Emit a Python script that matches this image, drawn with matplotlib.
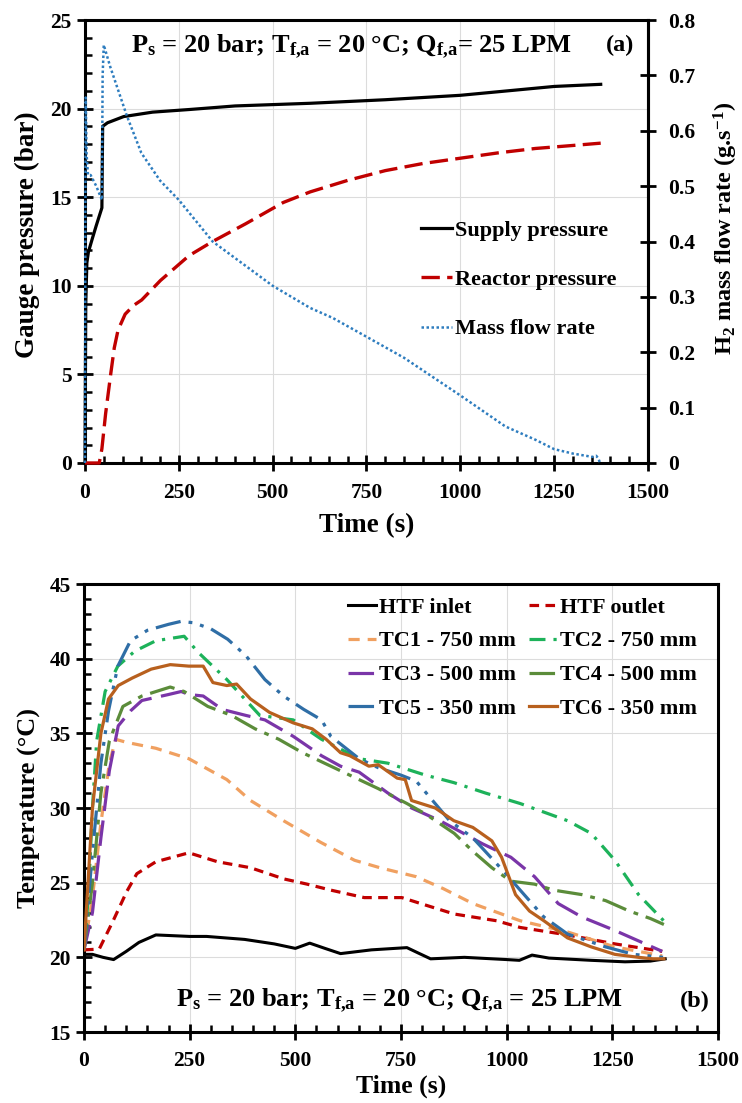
import matplotlib
matplotlib.use("Agg")
import matplotlib.pyplot as plt
from matplotlib.ticker import MultipleLocator

# ---------------- data: panel (a) ----------------
supply_t = [0, 2, 5, 9, 20, 30, 45, 47, 60, 103, 180, 279, 400, 600, 800, 1000, 1150, 1250, 1374]
supply_p = [0, 9.0, 11.3, 11.9, 12.7, 13.4, 14.4, 19.0, 19.2, 19.55, 19.8, 19.95, 20.15, 20.3, 20.5, 20.75, 21.05, 21.25, 21.37]

reactor_t = [0, 38, 45, 55, 69, 78, 88, 107, 130, 151, 201, 277, 340, 428, 528, 600, 700, 800, 900, 1000, 1100, 1200, 1300, 1374]
reactor_p = [0, 0, 0.8, 2.8, 5.1, 6.5, 7.5, 8.4, 8.9, 9.2, 10.3, 11.7, 12.5, 13.5, 14.7, 15.3, 15.95, 16.5, 16.9, 17.2, 17.5, 17.75, 17.92, 18.05]

flow_t = [0, 1, 2, 4, 8, 15, 30, 45, 47, 50, 67, 80, 112, 150, 200, 250, 340, 400, 500, 600, 660, 750, 850, 1000,
          1120, 1200, 1250, 1300, 1352, 1362, 1368, 1372]
flow_v = [0, 0.45, 0.66, 0.56, 0.52, 0.52, 0.50, 0.475, 0.70, 0.755, 0.716, 0.69, 0.626, 0.56, 0.51, 0.475, 0.40,
          0.37, 0.32, 0.28, 0.262, 0.228, 0.19, 0.122, 0.066, 0.042, 0.025, 0.017, 0.011, 0.013, 0.008, 0.0]

# ---------------- data: panel (b) ----------------
inlet_t = [0, 20, 45, 70, 100, 130, 170, 250, 290, 380, 450, 500, 534, 570, 607, 680, 764, 790, 820, 900, 1000,
           1030, 1060, 1100, 1200, 1280, 1340, 1375]
inlet_T = [20.2, 20.2, 20.0, 19.85, 20.4, 21.0, 21.5, 21.4, 21.4, 21.2, 20.9, 20.6, 20.95, 20.6, 20.25, 20.5, 20.65,
           20.3, 19.9, 20.0, 19.85, 19.8, 20.15, 19.95, 19.8, 19.7, 19.75, 19.9]

outlet_t = [0, 36, 69, 101, 125, 170, 248, 316, 394, 473, 528, 584, 663, 752, 808, 876, 976, 1032, 1144, 1256, 1368]
outlet_T = [20.5, 20.55, 22.45, 24.4, 25.6, 26.4, 27.0, 26.4, 26.0, 25.25, 24.9, 24.5, 24.0, 24.0, 23.5, 22.9, 22.45,
            22.0, 21.5, 20.9, 20.4]

tc1_t = [0, 20, 40, 60, 75, 100, 170, 248, 338, 394, 472, 560, 640, 700, 786, 850, 920, 1032, 1144, 1256, 1368]
tc1_T = [20.5, 24, 29, 33, 34.6, 34.4, 34.0, 33.3, 31.9, 30.5, 29.15, 27.7, 26.5, 26.0, 25.4, 24.6, 23.6, 22.45, 21.7,
         20.7, 20.1]

tc2_t = [0, 10, 20, 30, 50, 80, 120, 170, 237, 271, 338, 416, 495, 562, 651, 719, 808, 875, 950, 1032, 1144, 1200,
         1256, 1312, 1380]
tc2_T = [20.5, 24, 30, 34.5, 37.8, 39.5, 40.5, 41.2, 41.5, 40.4, 38.6, 36.2, 35.9, 34.6, 33.3, 33.0, 32.2, 31.7, 31.0,
         30.3, 29.15, 28.3, 26.5, 24.2, 22.2]

tc3_t = [0, 20, 40, 60, 81, 110, 137, 200, 230, 248, 282, 327, 383, 428, 495, 562, 607, 651, 719, 775, 842, 898, 943,
         1010, 1066, 1122, 1178, 1256, 1312, 1368]
tc3_T = [20.5, 23, 28, 32.5, 35.5, 36.5, 37.2, 37.6, 37.8, 37.6, 37.5, 36.6, 36.2, 35.9, 34.8, 33.5, 32.8, 32.4, 31.0,
         30.0, 29.15, 28.3, 27.6, 26.7, 25.4, 23.6, 22.7, 21.8, 21.1, 20.4]

tc4_t = [0, 20, 40, 60, 92, 137, 204, 237, 293, 349, 405, 461, 517, 584, 651, 696, 764, 808, 876, 920, 965, 1010, 1066,
         1111, 1178, 1234, 1290, 1340, 1372]
tc4_T = [20.5, 25, 31, 34.5, 36.8, 37.5, 38.1, 37.8, 36.8, 36.2, 35.3, 34.6, 33.7, 32.8, 31.9, 31.3, 30.3, 29.6, 28.3,
         27.1, 26.0, 25.1, 24.9, 24.5, 24.2, 23.8, 23.1, 22.6, 22.2]

tc5_t = [0, 20, 40, 58, 80, 110, 150, 200, 230, 260, 300, 340, 383, 428, 472, 520, 562, 584, 651, 696, 750, 786, 865,
         920, 998, 1032, 1088, 1144, 1234, 1300, 1370]
tc5_T = [20.5, 27, 33, 36.5, 39.5, 41.2, 41.9, 42.3, 42.5, 42.4, 42.0, 41.3, 40.2, 38.6, 37.5, 36.6, 35.9, 34.8, 33.3,
         32.7, 32.2, 31.8, 29.15, 28.0, 25.6, 24.5, 22.7, 21.56, 20.7, 20.2, 20.0]

tc6_t = [0, 20, 40, 58, 81, 114, 159, 204, 248, 282, 305, 338, 361, 394, 439, 495, 540, 573, 607, 629, 674, 696, 741,
         760, 775, 831, 875, 920, 965, 988, 1021, 1054, 1088, 1144, 1200, 1256, 1312, 1346, 1372]
tc6_T = [20.5, 30, 35, 37.3, 38.2, 38.7, 39.3, 39.6, 39.5, 39.5, 38.4, 38.2, 38.3, 37.3, 36.4, 35.7, 35.3, 34.6, 33.7,
         33.5, 32.8, 32.9, 32.0, 31.9, 30.5, 30.0, 29.15, 28.7, 27.8, 26.7, 24.2, 23.1, 22.45, 21.3, 20.7, 20.2, 20.0,
         19.9, 19.9]

label_a = r"$\mathregular{P_s}$ = 20 bar; $\mathregular{T_{f{,}a}}$ = 20 °C; $\mathregular{Q_{f{,}a}}$= 25 LPM"
label_b = r"$\mathregular{P_s}$ = 20 bar; $\mathregular{T_{f{,}a}}$ = 20 °C; $\mathregular{Q_{f{,}a}}$ = 25 LPM"

# ---------------- style ----------------
plt.rcParams['font.family'] = ['Liberation Serif', 'DejaVu Serif']
plt.rcParams['font.weight'] = 'bold'
plt.rcParams['mathtext.fontset'] = 'custom'
plt.rcParams['mathtext.rm'] = 'Liberation Serif:bold'
plt.rcParams['mathtext.it'] = 'Liberation Serif:italic:bold'
plt.rcParams['mathtext.bf'] = 'Liberation Serif:bold'
plt.rcParams['axes.labelweight'] = 'bold'

W, H = 742, 1103
fig = plt.figure(figsize=(W / 100, H / 100), dpi=100)


def fig_rect(x0, y0, x1, y1):
    return [x0 / W, 1 - y1 / H, (x1 - x0) / W, (y1 - y0) / H]


TICK_FS = 15.5
LAB_FS = 19.5
ANN_FS = 19
LEG_FS = 16
GRID_C = '#dcdcdc'


def style_axis(ax, ymaj, ymin, xpad):
    for s in ax.spines.values():
        s.set_linewidth(2.2)
        s.set_zorder(1.5)
    ax.xaxis.set_major_locator(MultipleLocator(250))
    ax.xaxis.set_minor_locator(MultipleLocator(50))
    ax.yaxis.set_major_locator(MultipleLocator(ymaj))
    ax.yaxis.set_minor_locator(MultipleLocator(ymin))
    ax.tick_params(which='major', direction='inout', length=11, width=2.0, labelsize=TICK_FS, pad=4)
    ax.tick_params(axis='x', which='major', pad=xpad)
    ax.tick_params(which='minor', direction='in', length=5, width=1.8)
    ax.tick_params(top=False, right=False, which='both')
    ax.grid(True, which='major', color=GRID_C, lw=0.8)
    ax.set_axisbelow(True)


# ---------------- panel (a) ----------------
ax1 = fig.add_axes(fig_rect(85, 20, 648, 463))
ax2 = ax1.twinx()
style_axis(ax1, 5, 1, 9)
ax1.set_xlim(0, 1500)
ax1.set_ylim(0, 25)
ax2.set_ylim(0, 0.8)
ax2.yaxis.set_major_locator(MultipleLocator(0.1))
ax2.tick_params(which='major', direction='inout', length=11, width=2.0, labelsize=TICK_FS, pad=9)
ax2.tick_params(which='minor', right=False)
for k, s in ax2.spines.items():
    s.set_linewidth(2.2)
    if k != 'right':
        s.set_visible(False)
ax2.set_yticks([0, 0.1, 0.2, 0.3, 0.4, 0.5, 0.6, 0.7, 0.8])
ax2.set_yticklabels(['0', '0.1', '0.2', '0.3', '0.4', '0.5', '0.6', '0.7', '0.8'])

l_sup, = ax1.plot(supply_t, supply_p, color='black', lw=2.3, label='Supply pressure', zorder=3, clip_on=False)
l_rea, = ax1.plot(reactor_t, reactor_p, color='#c00000', lw=2.4, ls=(0, (5.5, 2.2)), label='Reactor pressure',
                  zorder=3, clip_on=False)
l_flo, = ax2.plot(flow_t, flow_v, color='#2e7dbf', lw=1.8, ls=(0, (1, 1)), label='Mass flow rate',
                  zorder=3, clip_on=False)

ax1.set_xlabel('Time (s)', fontsize=LAB_FS, labelpad=7)
ax1.set_ylabel('Gauge pressure (bar)', fontsize=LAB_FS)
ax1.yaxis.set_label_coords((40 - 85) / (648 - 85), 0.515)
ax2.set_ylabel(r'H$_\mathregular{2}$ mass flow rate (g.s$^\mathregular{-1}$)', fontsize=17.5)
ax2.yaxis.set_label_coords((712 - 85) / (648 - 85), (463 - 228) / 443)

fig.legend(handles=[l_sup, l_rea, l_flo], loc='upper left',
           bbox_to_anchor=(421 / W, 1 - 220 / H), frameon=False, fontsize=LEG_FS,
           handlelength=1.4, handletextpad=0.14, labelspacing=1.3, borderpad=0, borderaxespad=0)

fig.text(351 / W, 1 - 47 / H, label_a, ha='center', va='center', fontsize=ANN_FS, fontweight='bold')
fig.text(620 / W, 1 - 45 / H, '(a)', ha='center', va='center', fontsize=17.5, fontweight='bold')

# ---------------- panel (b) ----------------
ax3 = fig.add_axes(fig_rect(84, 584, 718, 1032))
style_axis(ax3, 5, 1, 8)
ax3.set_xlim(0, 1500)
ax3.set_ylim(15, 45)

h_in, = ax3.plot(inlet_t, inlet_T, color='black', lw=2.2, label='HTF inlet')
h_out, = ax3.plot(outlet_t, outlet_T, color='#c00000', lw=2.3, ls=(0, (3, 2)), label='HTF outlet')
h1, = ax3.plot(tc1_t, tc1_T, color='#f0a060', lw=2.3, ls=(0, (3.5, 2.5)), label='TC1 - 750 mm')
h2, = ax3.plot(tc2_t, tc2_T, color='#1db25a', lw=2.3, ls=(0, (5, 2.5, 1, 2.5)), label='TC2 - 750 mm')
h3, = ax3.plot(tc3_t, tc3_T, color='#7a35a8', lw=2.3, ls=(0, (8, 3)), label='TC3 - 500 mm')
h4, = ax3.plot(tc4_t, tc4_T, color='#5b8c3a', lw=2.3, ls=(0, (8, 2.5, 1.5, 2.5)), label='TC4 - 500 mm')
h5, = ax3.plot(tc5_t, tc5_T, color='#2f6ea6', lw=2.3, ls=(0, (8, 2.5, 1.2, 2.5, 1.2, 2.5)), label='TC5 - 350 mm')
h6, = ax3.plot(tc6_t, tc6_T, color='#b8601e', lw=2.3, label='TC6 - 350 mm')

ax3.set_xlabel('Time (s)', fontsize=18.5, labelpad=3)
ax3.set_ylabel('Temperature (°C)', fontsize=19, labelpad=6)

fig.legend(handles=[h_in, h1, h3, h5, h_out, h2, h4, h6], ncol=2, loc='upper left',
           bbox_to_anchor=(348 / W, 1 - 597 / H), frameon=False, fontsize=LEG_FS,
           handlelength=1.25, handletextpad=0.14, labelspacing=0.6, columnspacing=0.6,
           borderpad=0, borderaxespad=0)

fig.text(400 / W, 1 - 1001 / H, label_b, ha='center', va='center', fontsize=ANN_FS, fontweight='bold')
fig.text(695 / W, 1 - 1001 / H, '(b)', ha='center', va='center', fontsize=17.5, fontweight='bold')

fig.savefig('out.png', dpi=100)
